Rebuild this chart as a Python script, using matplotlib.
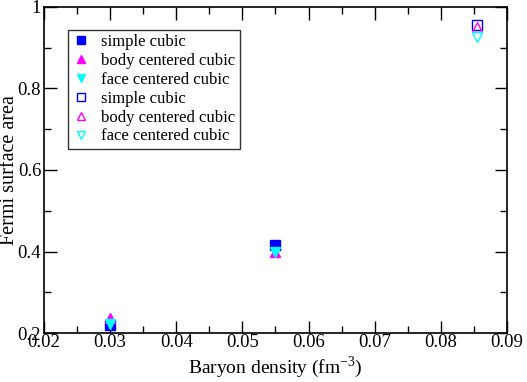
import matplotlib
matplotlib.use('Agg')
import matplotlib.pyplot as plt
from matplotlib.ticker import MultipleLocator

plt.rcParams['font.family'] = 'Liberation Serif'
plt.rcParams['mathtext.fontset'] = 'custom'
plt.rcParams['mathtext.rm'] = 'Liberation Serif'

# filled markers (first two densities)
x_filled = [0.03, 0.055]
sc_filled = [0.220, 0.416]
bcc_filled = [0.238, 0.398]
fcc_filled = [0.222, 0.400]

# open markers (highest density)
x_open = [0.0855]
sc_open = [0.956]
bcc_open = [0.950]
fcc_open = [0.927]

labels = ['simple cubic', 'body centered cubic', 'face centered cubic']
colors = ['#0000ff', '#ff00ff', '#00ffff']
markers = ['s', '^', 'v']

fig = plt.figure(figsize=(5.27, 3.82), dpi=100)
ax = fig.add_axes([0.0835, 0.128, 0.8785, 0.854])

for ys, c, m, lab in zip([sc_filled, bcc_filled, fcc_filled], colors, markers, labels):
    ax.plot(x_filled, ys, linestyle='none', marker=m, color=c, markersize=7, label=lab)
for ys, c, m, lab in zip([sc_open, bcc_open, fcc_open], colors, markers, labels):
    ax.plot(x_open, ys, linestyle='none', marker=m, markerfacecolor='none',
            markeredgecolor=c, markersize=7, markeredgewidth=1, label=lab)

ax.set_xlim(0.02, 0.09)
ax.set_ylim(0.2, 1.0)
ax.xaxis.set_minor_locator(MultipleLocator(0.005))
ax.yaxis.set_minor_locator(MultipleLocator(0.1))
ax.set_xticks([0.02, 0.03, 0.04, 0.05, 0.06, 0.07, 0.08, 0.09])
ax.set_xticklabels(['0.02', '0.03', '0.04', '0.05', '0.06', '0.07', '0.08', '0.09'])
ax.set_yticks([0.2, 0.4, 0.6, 0.8, 1.0])
ax.set_yticklabels(['0.2', '0.4', '0.6', '0.8', '1'])
ax.tick_params(which='both', direction='in', top=True, right=True, labelsize=13.5)
ax.tick_params(which='major', length=9, width=1)
ax.tick_params(which='minor', length=5, width=1)
ax.tick_params(axis='x', pad=1)
ax.tick_params(axis='y', pad=2)
for s in ax.spines.values():
    s.set_linewidth(1.2)

ax.set_xlabel('Baryon density (fm$^{-3}$)', fontsize=14, labelpad=2)
ax.set_ylabel('Fermi surface area', fontsize=14.5)
ax.yaxis.set_label_coords(-0.053, 0.5)

leg = ax.legend(loc='upper left', bbox_to_anchor=(0.052, 0.929), borderaxespad=0,
                fontsize=12, frameon=True, fancybox=False, edgecolor='black',
                handlelength=1.0, handletextpad=0.75, labelspacing=0.17,
                borderpad=0.25, markerscale=0.85)
leg.get_frame().set_linewidth(1.0)

fig.savefig('out.png', dpi=100)
